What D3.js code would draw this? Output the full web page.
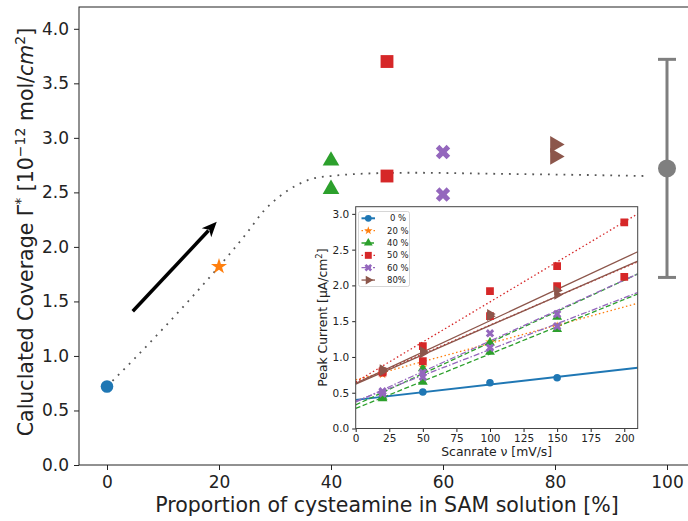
<!DOCTYPE html>
<html>
<head>
<meta charset="utf-8">
<script src="https://cdn.jsdelivr.net/npm/d3@7"></script>
<style>
  body { margin: 0; background: #fff; }
  svg { font-family: "DejaVu Sans", sans-serif; }
</style>
</head>
<body>
<svg width="688" height="521"></svg>
<script>
// ---- main plot data ----
var concLabels = ["0 %", "20 %", "40 %", "50 %", "60 %", "80%"];
var concColors = ["#1f77b4", "#ff7f0e", "#2ca02c", "#d62728", "#9467bd", "#8c564b"];
var mainPts = [
  { c: 0, x: 0, y: 0.72 },
  { c: 1, x: 20, y: 1.82 },
  { c: 2, x: 40, y: 2.79 },
  { c: 2, x: 40, y: 2.53 },
  { c: 3, x: 50, y: 3.70 },
  { c: 3, x: 50, y: 2.65 },
  { c: 4, x: 60, y: 2.87 },
  { c: 4, x: 60, y: 2.48 },
  { c: 5, x: 80, y: 2.94 },
  { c: 5, x: 80, y: 2.83 }
];
var meanX = 100, meanY = 2.72, meanErr = 1.0;
var trendX = [0, 5, 10, 15, 20, 25, 28, 31, 34, 37, 40, 45, 55, 70, 85, 96];
var trendY = [0.72, 0.98, 1.25, 1.53, 1.82, 2.13, 2.33, 2.47, 2.57, 2.63, 2.65, 2.67, 2.68, 2.67, 2.66, 2.65];
var arrowFrom = [4.6, 1.41], arrowTo = [19.6, 2.23];
var mainXTicks = [0, 20, 40, 60, 80, 100];
var mainYTicks = [0, 0.5, 1, 1.5, 2, 2.5, 3, 3.5, 4];

// ---- inset data (peak current vs scan rate) ----
var seriesConc = [0, 1, 2, 2, 3, 3, 4, 4, 5, 5];
var seriesPts = [
  [[20, 0.44], [50, 0.51], [100, 0.64], [150, 0.71]],
  [[20, 0.76], [50, 0.86], [100, 1.21], [150, 1.43]],
  [[20, 0.44], [50, 0.84], [100, 1.20], [150, 1.56]],
  [[20, 0.42], [50, 0.65], [100, 1.07], [150, 1.39]],
  [[20, 0.80], [50, 1.15], [100, 1.92], [150, 2.27], [200, 2.88]],
  [[20, 0.78], [50, 0.94], [100, 1.57], [150, 1.99], [200, 2.12]],
  [[20, 0.52], [50, 0.78], [100, 1.33], [150, 1.60]],
  [[20, 0.49], [50, 0.72], [100, 1.13], [150, 1.43]],
  [[20, 0.83], [50, 1.08], [100, 1.60], [150, 1.93]],
  [[20, 0.80], [50, 1.05], [100, 1.57], [150, 1.87]]
];
var fitStartY = [0.40, 0.68, 0.33, 0.28, 0.65, 0.64, 0.37, 0.38, 0.63, 0.62];
var fitEndY = [0.85, 1.75, 2.16, 1.88, 3.00, 2.33, 2.16, 1.90, 2.47, 2.34];
var fitRange = [0, 210];
var insXTicks = [0, 25, 50, 75, 100, 125, 150, 175, 200];
var insYTicks = [0, 0.5, 1, 1.5, 2, 2.5, 3];

var svg = d3.select("svg");

var x = d3.scaleLinear().domain([-5, 105]).range([79, 695]);
var y = d3.scaleLinear().domain([0, 4.2]).range([465, 7]);

var ix = d3.scaleLinear().domain([0, 210]).range([355.7, 637.7]);
var iy = d3.scaleLinear().domain([0, 3.1]).range([428.5, 206.7]);

var dashes = ["none", "1.5,2.5", "5,2.5", "1.5,2.5", "6,2,1.5,2", "none"];
var widths = [2, 1.3, 1.3, 1.3, 1.3, 1.3];

function markerPath(c, size) {
  var types = [d3.symbolCircle, d3.symbolStar, d3.symbolTriangle, d3.symbolSquare, d3.symbolCross, d3.symbolTriangle];
  return d3.symbol().type(types[c]).size(size)();
}
function markerRot(c) {
  if (c === 4) return 45;
  if (c === 5) return 90;
  return 0;
}
var mainSizes = [125, 80, 120, 165, 130, 120];
var insSizes = [45, 28, 42, 60, 45, 42];

// main axes
var gx = svg.append("g")
  .attr("transform", "translate(0,465)")
  .call(d3.axisBottom(x).tickValues(mainXTicks).tickSize(5).tickPadding(6).tickSizeOuter(0));
var gy = svg.append("g")
  .attr("transform", "translate(79,0)")
  .call(d3.axisLeft(y).tickValues(mainYTicks).tickFormat(d3.format(".1f")).tickSize(5).tickPadding(5).tickSizeOuter(0));
[gx, gy].forEach(function (g) {
  g.select(".domain").remove();
  g.selectAll("text").attr("font-size", 17).attr("fill", "#222").attr("font-family", "DejaVu Sans");
  g.selectAll("line").attr("stroke", "#222");
});
svg.append("rect")
  .attr("x", 79).attr("y", 7).attr("width", 616).attr("height", 458)
  .attr("fill", "none").attr("stroke", "#222").attr("stroke-width", 1);

// trend curve
var trend = trendX.map(function (d, i) { return [d, trendY[i]]; });
svg.append("path")
  .datum(trend)
  .attr("fill", "none")
  .attr("stroke", "#555")
  .attr("stroke-width", 1.8)
  .attr("stroke-dasharray", "1.8,6")
  .attr("d", d3.line().x(function (d) { return x(d[0]); }).y(function (d) { return y(d[1]); }).curve(d3.curveMonotoneX));

// arrow
var ax0 = x(arrowFrom[0]), ay0 = y(arrowFrom[1]), ax1 = x(arrowTo[0]), ay1 = y(arrowTo[1]);
var ang = Math.atan2(ay1 - ay0, ax1 - ax0);
var headL = 15, headW = 6.5;
var bx = ax1 - headL * Math.cos(ang), by = ay1 - headL * Math.sin(ang);
svg.append("line")
  .attr("x1", ax0).attr("y1", ay0).attr("x2", bx + 3 * Math.cos(ang)).attr("y2", by + 3 * Math.sin(ang))
  .attr("stroke", "#000").attr("stroke-width", 3.5);
svg.append("path")
  .attr("d", "M" + ax1 + "," + ay1 +
    "L" + (bx - headW * Math.sin(ang)) + "," + (by + headW * Math.cos(ang)) +
    "L" + (bx + 4 * Math.cos(ang)) + "," + (by + 4 * Math.sin(ang)) +
    "L" + (bx + headW * Math.sin(ang)) + "," + (by - headW * Math.cos(ang)) + "Z")
  .attr("fill", "#000");

// main markers
svg.selectAll(".mpt").data(mainPts).enter().append("path")
  .attr("class", "mpt")
  .attr("d", function (d) { return markerPath(d.c, mainSizes[d.c]); })
  .attr("transform", function (d) { return "translate(" + x(d.x) + "," + y(d.y) + ") rotate(" + markerRot(d.c) + ")"; })
  .attr("fill", function (d) { return concColors[d.c]; });

// mean with error bar
svg.append("line")
  .attr("x1", x(meanX)).attr("x2", x(meanX))
  .attr("y1", y(meanY - meanErr)).attr("y2", y(meanY + meanErr))
  .attr("stroke", "#7f7f7f").attr("stroke-width", 3);
[meanY - meanErr, meanY + meanErr].forEach(function (v) {
  svg.append("line")
    .attr("x1", x(meanX) - 9).attr("x2", x(meanX) + 9)
    .attr("y1", y(v)).attr("y2", y(v))
    .attr("stroke", "#7f7f7f").attr("stroke-width", 3);
});
svg.append("circle")
  .attr("cx", x(meanX)).attr("cy", y(meanY)).attr("r", 9)
  .attr("fill", "#7f7f7f");

// main labels
svg.append("text")
  .attr("x", 387).attr("y", 512)
  .attr("text-anchor", "middle").attr("font-size", 20.5).attr("fill", "#222")
  .text("Proportion of cysteamine in SAM solution [%]");
var yl = svg.append("text")
  .attr("transform", "translate(33,232) rotate(-90)")
  .attr("text-anchor", "middle").attr("font-size", 20.5).attr("fill", "#222");
yl.append("tspan").text("Caluclated Coverage Γ");
yl.append("tspan").attr("dy", -8).attr("font-size", 14).text("*");
yl.append("tspan").attr("dy", 8).text(" [10");
yl.append("tspan").attr("dy", -8).attr("font-size", 14).text("−12");
yl.append("tspan").attr("dy", 8).text(" mol/");
yl.append("tspan").attr("font-style", "italic").text("cm");
yl.append("tspan").attr("dy", -8).attr("font-size", 14).text("2");
yl.append("tspan").attr("dy", 8).text("]");

// ---- inset ----
var ins = svg.append("g");
ins.append("rect")
  .attr("x", ix(0)).attr("y", iy(3.1))
  .attr("width", ix(210) - ix(0)).attr("height", iy(0) - iy(3.1))
  .attr("fill", "#fff");

svg.append("clipPath").attr("id", "insclip").append("rect")
  .attr("x", ix(0)).attr("y", iy(3.1))
  .attr("width", ix(210) - ix(0)).attr("height", iy(0) - iy(3.1));

var plotG = ins.append("g").attr("clip-path", "url(#insclip)");

seriesConc.forEach(function (c, i) {
  plotG.append("line")
    .attr("x1", ix(fitRange[0])).attr("y1", iy(fitStartY[i]))
    .attr("x2", ix(fitRange[1])).attr("y2", iy(fitEndY[i]))
    .attr("stroke", concColors[c])
    .attr("stroke-width", widths[c])
    .attr("stroke-dasharray", dashes[c]);
});
seriesConc.forEach(function (c, i) {
  plotG.selectAll(".ip" + i).data(seriesPts[i]).enter().append("path")
    .attr("d", markerPath(c, insSizes[c]))
    .attr("transform", function (d) { return "translate(" + ix(d[0]) + "," + iy(d[1]) + ") rotate(" + markerRot(c) + ")"; })
    .attr("fill", concColors[c]);
});

var igx = ins.append("g")
  .attr("transform", "translate(0," + iy(0) + ")")
  .call(d3.axisBottom(ix).tickValues(insXTicks).tickSize(3.5).tickPadding(3).tickSizeOuter(0));
var igy = ins.append("g")
  .attr("transform", "translate(" + ix(0) + ",0)")
  .call(d3.axisLeft(iy).tickValues(insYTicks).tickFormat(d3.format(".1f")).tickSize(3.5).tickPadding(3).tickSizeOuter(0));
[igx, igy].forEach(function (g) {
  g.select(".domain").remove();
  g.selectAll("text").attr("font-size", 10.5).attr("fill", "#222").attr("font-family", "DejaVu Sans");
  g.selectAll("line").attr("stroke", "#222");
});
ins.append("rect")
  .attr("x", ix(0)).attr("y", iy(3.1))
  .attr("width", ix(210) - ix(0)).attr("height", iy(0) - iy(3.1))
  .attr("fill", "none").attr("stroke", "#444").attr("stroke-width", 1);

ins.append("text")
  .attr("x", (ix(0) + ix(210)) / 2).attr("y", 456)
  .attr("text-anchor", "middle").attr("font-size", 12.4).attr("fill", "#222")
  .text("Scanrate ν [mV/s]");
var iyl = ins.append("text")
  .attr("transform", "translate(327," + ((iy(0) + iy(3.1)) / 2) + ") rotate(-90)")
  .attr("text-anchor", "middle").attr("font-size", 12.4).attr("fill", "#222");
iyl.append("tspan").text("Peak Current [µA/cm");
iyl.append("tspan").attr("dy", -5).attr("font-size", 8.5).text("2");
iyl.append("tspan").attr("dy", 5).text("]");

// legend
var lg = ins.append("g");
lg.append("rect")
  .attr("x", 358.5).attr("y", 211.5).attr("width", 51).attr("height", 75).attr("rx", 2)
  .attr("fill", "#fff").attr("stroke", "#ccc").attr("stroke-width", 0.8);
concLabels.forEach(function (lab, c) {
  var yy = 218.3 + c * 12.35;
  lg.append("line")
    .attr("x1", 361.5).attr("x2", 375).attr("y1", yy).attr("y2", yy)
    .attr("stroke", concColors[c]).attr("stroke-width", widths[c]).attr("stroke-dasharray", dashes[c]);
  lg.append("path")
    .attr("d", markerPath(c, insSizes[c] * 0.8))
    .attr("transform", "translate(368.3," + yy + ") rotate(" + markerRot(c) + ")")
    .attr("fill", concColors[c]);
  lg.append("text")
    .attr("x", c === 0 ? 390 : 387).attr("y", yy + 3)
    .attr("font-size", 8.5).attr("fill", "#222")
    .text(lab);
});
</script>
</body>
</html>
